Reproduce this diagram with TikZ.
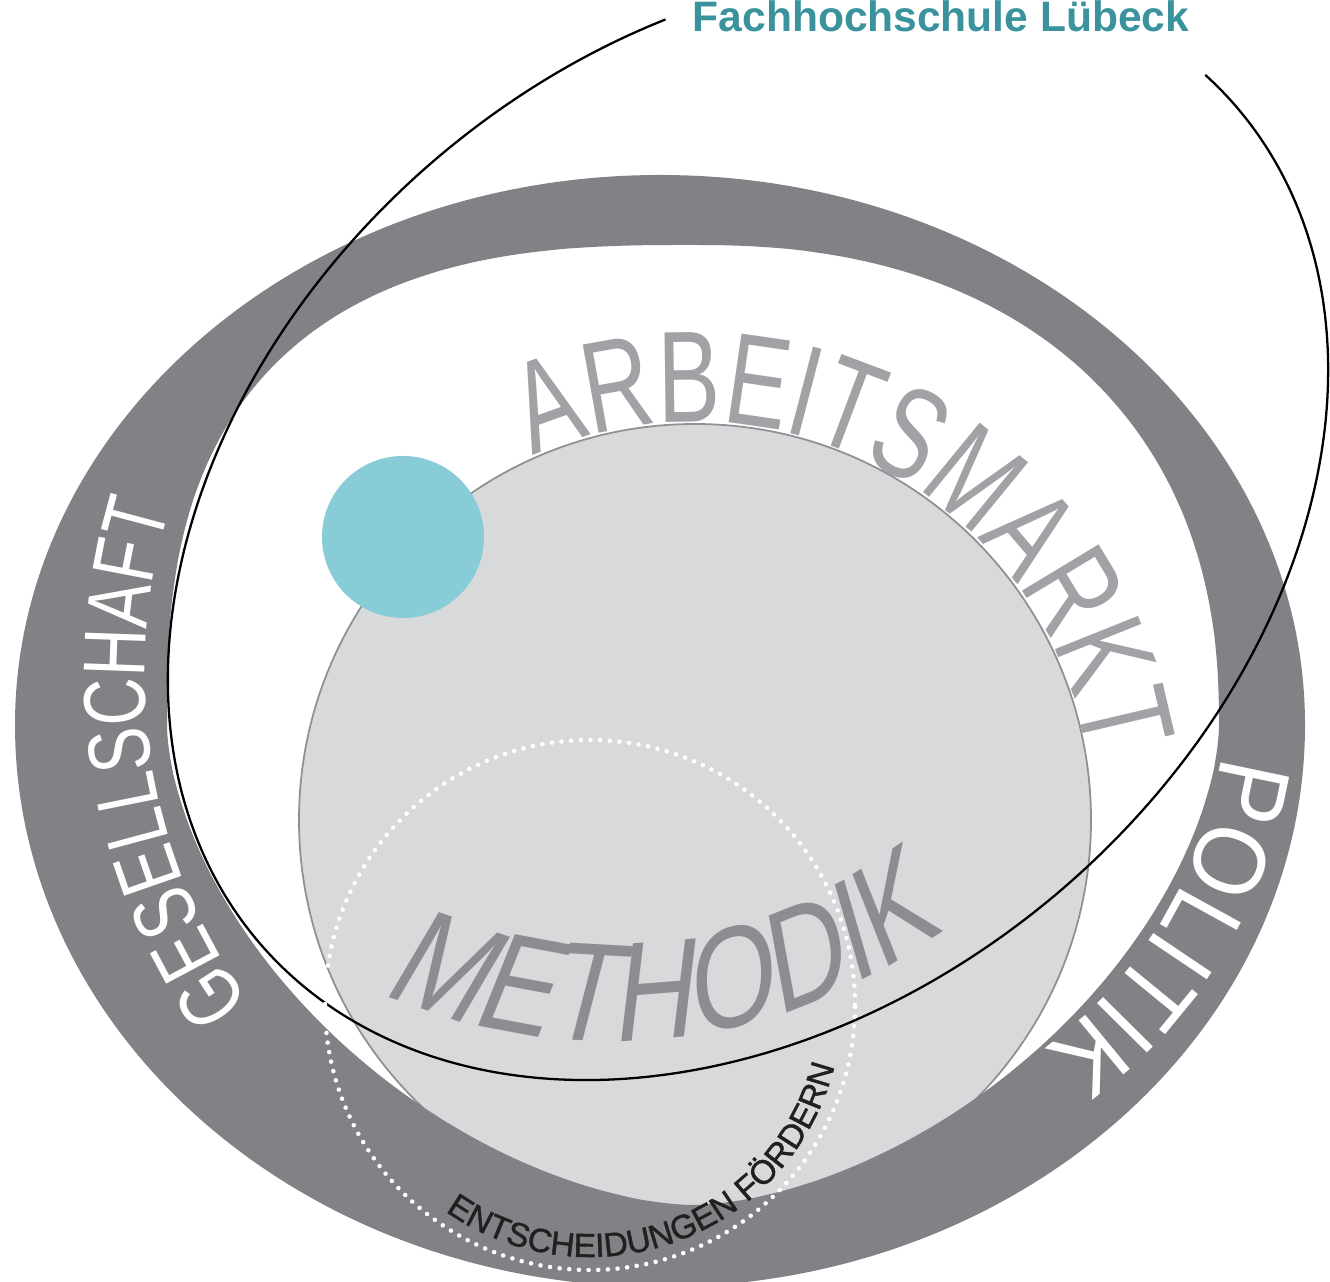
\documentclass[tikz,border=0pt]{standalone}
\usepackage{fontspec}
\setmainfont{Liberation Sans}
\newfontfamily\narrowfamily[FakeStretch=0.72]{Liberation Sans}
\newfontfamily\gesfamily[FakeStretch=0.75]{Liberation Sans}
\newfontfamily\polfamily[FakeStretch=0.9]{Liberation Sans}
\newfontfamily\slantfamily[FakeStretch=0.8,FakeSlant=0.2]{Liberation Sans}
\newfontfamily\inkfamily[FakeBold=1.2]{Liberation Sans}
\usetikzlibrary{decorations.text}

\definecolor{ringgray}{HTML}{808285}
\definecolor{discgray}{HTML}{D8D9DB}
\definecolor{edgegray}{HTML}{8E9093}
\definecolor{wordgray}{HTML}{A0A2A5}
\definecolor{methgray}{HTML}{8B8D90}
\definecolor{fhteal}{HTML}{87CCD6}
\definecolor{fhblue}{HTML}{3A929C}
\definecolor{inkblack}{HTML}{231F20}

\newcommand\arbfont{\narrowfamily\fontsize{37}{37}\selectfont}
\newcommand\gesfont{\gesfamily\fontsize{25}{25}\selectfont}
\newcommand\polfont{\polfamily\fontsize{29}{29}\selectfont}
\newcommand\methfont{\slantfamily\fontsize{40}{40}\selectfont}
\newcommand\smallfont{\inkfamily\fontsize{9.5}{9.5}\selectfont}

\begin{document}
\begin{tikzpicture}[x=0.01cm,y=0.01cm,
  curved/.style={decorate,decoration={text along path,text align=left,#1}}]
\useasboundingbox (0,0) rectangle (1330,1282);
%Centres
\coordinate (disc) at (695,462);
\coordinate (dot) at (403,745);
\coordinate (ring) at (590,277);
\coordinate (meth) at (609,801);
\coordinate (ges) at (714,608);
\coordinate (pol) at (794,585);

%Shapes
\draw[edgegray,fill=discgray,line width=0.5pt] (disc) circle[radius=396];
\fill[ringgray,even odd rule]
 (1305,557) arc[start angle=0,end angle=180,x radius=645,y radius=550]
 arc[start angle=180,end angle=360,x radius=645,y radius=562] -- cycle
 plot[domain=0.25:358.25,samples=180,smooth cycle,variable=\t]
 ({693+526*(cos(\t)<0?-1:1)*abs(cos(\t))^(2/(sin(\t)>0?(cos(\t)<0?2.7:2.3):1.7))},
  {557+480*(sin(\t)<0?-1:1)*abs(sin(\t))^(2/(sin(\t)>0?(cos(\t)<0?2.7:2.3):1.7))});
\fill[fhteal] (dot) circle[radius=81];

%Words
\path[curved={text={|\arbfont|ARBEITSMARKT},text color=wordgray}]
 (disc) ++(114:398) arc[start angle=114,end angle=-20,radius=398];
\path[curved={text={|\methfont|METHODIK},text color=methgray}]
 (meth) ++(246:560) arc[start angle=246,end angle=320,radius=560];
\path[curved={text={|\gesfont|GESELLSCHAFT},text color=white}]
 (ges) ++(215.4:569) arc[start angle=215.4,end angle=140,radius=569];
\path[curved={text={|\polfont|POLITIK},text color=white}]
 (pol) ++(-7.8:431) arc[start angle=-7.8,end angle=-75,radius=431];
\path[curved={text={|\smallfont|ENTSCHEIDUNGEN FÖRDERN},text color=inkblack}]
 (ring) ++(235:252) arc[start angle=235,end angle=355,radius=252];

%Orbit
\draw[line width=0.65pt] plot[domain=65.6:365.4,samples=160,smooth,variable=\t]
 ({748+643*cos(\t)*cos(40.5)-481*sin(\t)*sin(40.5)},{757+643*cos(\t)*sin(40.5)+481*sin(\t)*cos(40.5)});
\draw[white,line width=1.3pt,line cap=round,dash pattern=on 0pt off 2.75pt] (ring) circle[radius=265];

%Title
\node[anchor=base west,inner sep=0,text=fhblue,font=\bfseries\fontsize{12.1}{14}\selectfont] (title) at (692,1250) {Fachhochschule Lübeck};
\end{tikzpicture}
\end{document}
